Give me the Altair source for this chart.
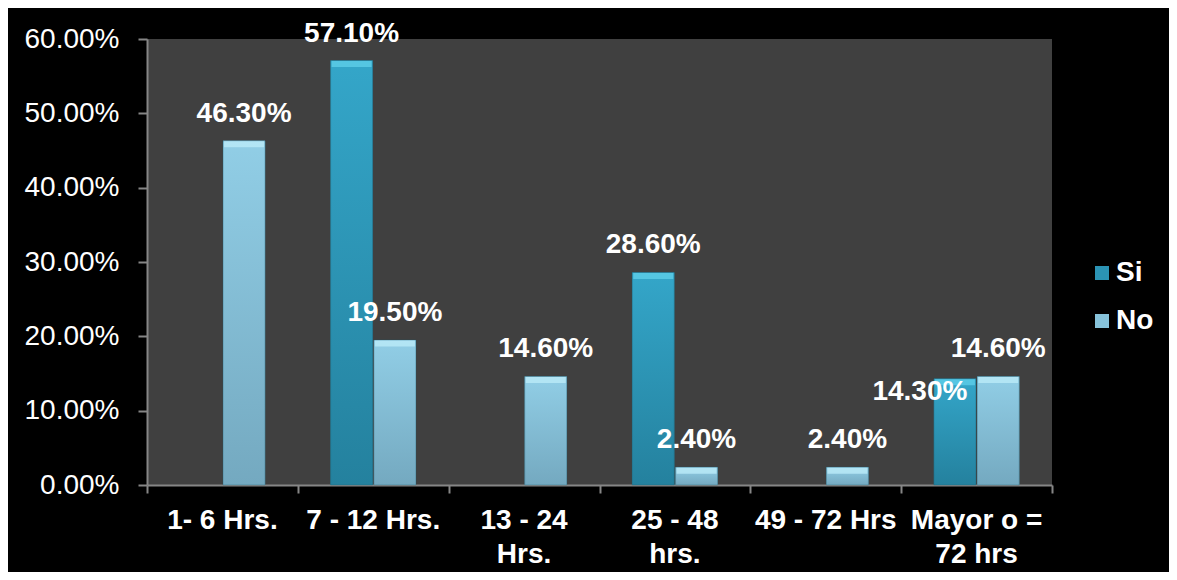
import altair as alt
import pandas as pd

categories = ["1- 6 Hrs.", "7 - 12 Hrs.", "13 - 24 Hrs.", "25 - 48 hrs.", "49 - 72 Hrs", "Mayor o = 72 hrs"]
category_display = ["1- 6 Hrs.", "7 - 12 Hrs.", "13 - 24\nHrs.", "25 - 48\nhrs.", "49 - 72 Hrs", "Mayor o =\n72 hrs"]
series = ["Si", "No"]
si_values = [0.0, 0.571, 0.0, 0.286, 0.0, 0.143]
no_values = [0.463, 0.195, 0.146, 0.024, 0.024, 0.146]
y_ticks = [0.0, 0.1, 0.2, 0.3, 0.4, 0.5, 0.6]

SI_COLOR = "#2b93b4"
NO_COLOR = "#86c2da"
FONT = "Liberation Sans"

rows = []
for c, s, n in zip(categories, si_values, no_values):
    rows.append({"category": c, "serie": "Si", "value": s})
    rows.append({"category": c, "serie": "No", "value": n})
df = pd.DataFrame(rows)
labels_df = pd.DataFrame({"category": categories, "display": category_display})

W, H = 905, 446

x_enc = alt.X("category:N", sort=categories, title=None,
              scale=alt.Scale(paddingInner=0, paddingOuter=0),
              axis=alt.Axis(labels=False, tickBand="extent", tickSize=8, tickWidth=2,
                            tickColor="#868686", domainColor="#868686", domainWidth=2,
                            grid=False, title=None))
xo_enc = alt.XOffset("serie:N", sort=series, scale=alt.Scale(paddingInner=0.03, paddingOuter=0.756))
y_enc = alt.Y("value:Q", title=None,
              scale=alt.Scale(domain=[0, 0.6], nice=False, zero=True),
              axis=alt.Axis(values=y_ticks, format=".2%", tickSize=9, tickWidth=2,
                            tickColor="#868686", domainColor="#868686", domainWidth=2,
                            labelPadding=19, labelFont=FONT, labelFontSize=28,
                            labelColor="white", grid=False, title=None))

base = alt.Chart(df).transform_filter("datum.value > 0")

bars = base.mark_bar().encode(
    x=x_enc,
    xOffset=xo_enc,
    y=y_enc,
    color=alt.Color("serie:N", sort=series,
                    scale=alt.Scale(domain=series, range=[SI_COLOR, NO_COLOR]),
                    legend=alt.Legend(title=None, orient="none", legendX=941, legendY=220,
                                      symbolType="square", symbolSize=196,
                                      symbolStrokeWidth=0, symbolOpacity=1,
                                      labelFont=FONT, labelFontSize=28, labelFontWeight="bold",
                                      labelColor="white", labelOffset=0, rowPadding=20,
                                      padding=0)),
)


def grad(top, bottom):
    return alt.LinearGradient(gradient="linear", x1=0, y1=0, x2=0, y2=1,
                              stops=[alt.GradientStop(offset=0, color=top),
                                     alt.GradientStop(offset=1, color=bottom)])


def shade(serie, top, bottom, cap):
    sub = base.transform_filter(f"datum.serie == '{serie}'")
    body = sub.mark_bar(fill=grad(top, bottom), stroke="#1f5f73", strokeWidth=0.6, strokeOpacity=0.6).encode(
        x=alt.X("category:N", sort=categories, title=None),
        xOffset=alt.XOffset("serie:N", sort=series),
        y=alt.Y("value:Q", title=None),
    )
    top_cap = sub.mark_tick(orient="horizontal", thickness=6, size=40, yOffset=3.5,
                            color=cap, opacity=0.85).encode(
        x=alt.X("category:N", sort=categories, title=None),
        xOffset=alt.XOffset("serie:N", sort=series),
        y=alt.Y("value:Q", title=None),
    )
    return [body, top_cap]


shades = shade("Si", "#34a6c9", "#24819e", "#5ccbe6") + shade("No", "#91cee6", "#74a9c0", "#b9e9f7")

text_common = dict(font=FONT, fontSize=28, fontWeight="bold", color="white",
                   baseline="alphabetic", align="center")

value_labels = base.transform_filter(
    "!(datum.category == 'Mayor o = 72 hrs' && datum.serie == 'Si')"
).mark_text(dy=-19, **text_common).encode(
    x=alt.X("category:N", sort=categories, title=None),
    xOffset=alt.XOffset("serie:N", sort=series),
    y=alt.Y("value:Q", title=None),
    text=alt.Text("value:Q", format=".2%"),
)

special_label = base.transform_filter(
    "datum.category == 'Mayor o = 72 hrs' && datum.serie == 'Si'"
).mark_text(dx=-35, dy=21, **text_common).encode(
    x=alt.X("category:N", sort=categories, title=None),
    xOffset=alt.XOffset("serie:N", sort=series),
    y=alt.Y("value:Q", title=None),
    text=alt.Text("value:Q", format=".2%"),
)

x_labels = alt.Chart(labels_df).mark_text(
    lineBreak="\n", lineHeight=34, **text_common
).encode(
    x=alt.X("category:N", sort=categories, title=None),
    y=alt.value(489.5),
    text="display:N",
)

chart = alt.layer(bars, *shades, value_labels, special_label, x_labels).properties(
    width=W, height=H,
    background="black",
    padding={"left": 139, "top": 31, "right": 117, "bottom": 87},
    autosize=alt.AutoSizeParams(type="none"),
).configure_view(fill="#404040", stroke=None)

chart.save("out.html", embed_options={"renderer": "svg", "actions": False})
